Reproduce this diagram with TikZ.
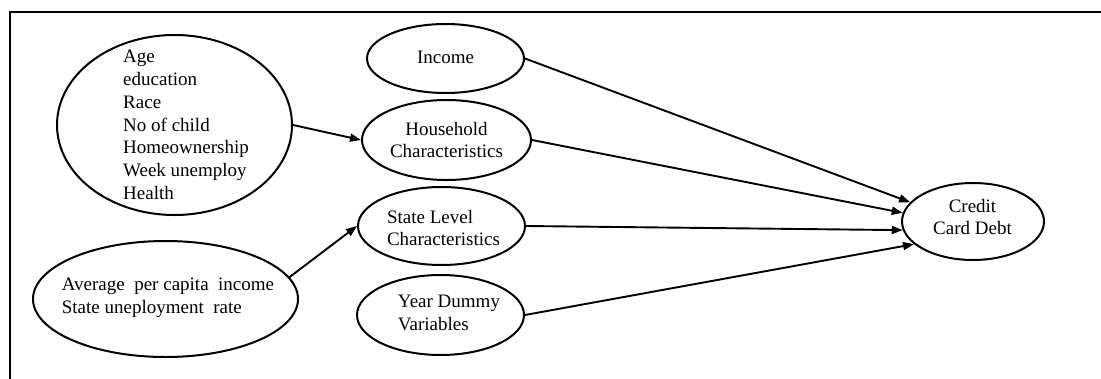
\documentclass[tikz,border=0pt]{standalone}
\usepackage{fontspec}
\setmainfont{Liberation Serif}
\usetikzlibrary{shapes.geometric,arrows.meta}
\tikzset{
  ell/.style={draw, ellipse, line width=2pt, inner sep=0pt},
  txt/.style={inner sep=0pt, font=\fontsize{19}{22.5}\selectfont},
  arr/.style={line width=1.9pt, -{Triangle[length=11pt,width=8pt]}},
}
\begin{document}
\begin{tikzpicture}[x=1pt,y=-1pt]
\useasboundingbox (0,0) rectangle (1101,378);
% frame
\coordinate (fa) at (10,385);
\coordinate (fb) at (10,12);
\coordinate (fc) at (1110,12);
\draw[line width=2pt] (fa) -- (fb) -- (fc);
% ellipses
\node[ell, minimum width=235pt, minimum height=180pt] (big) at (174.5,125) {};
\node[ell, minimum width=157pt, minimum height=69pt] (inc) at (445.5,58.5) {};
\node[ell, minimum width=169pt, minimum height=80pt] (hh) at (446.5,140) {};
\node[ell, minimum width=167pt, minimum height=78pt] (st) at (441.5,226) {};
\node[ell, minimum width=167pt, minimum height=80pt] (yr) at (440.5,315) {};
\node[ell, minimum width=265pt, minimum height=116pt] (avg) at (165.5,299) {};
\node[ell, minimum width=142pt, minimum height=77pt] (cd) at (973,221.5) {};
% texts
\node[txt, align=left, font=\fontsize{19}{22.8}\selectfont] (tbig) at (186,125) {Age\\education\\Race\\No of child\\Homeownership\\Week unemploy\\Health};
\node[txt] (tinc) at (445.5,57) {Income};
\node[txt, align=center] (thh) at (446.5,140) {Household\\Characteristics};
\node[txt, align=left] (tst) at (443.5,228) {State Level\\Characteristics};
\node[txt, align=left] (tyr) at (449,313) {Year Dummy\\Variables};
\node[txt, align=left] (tavg) at (168,298) {Average\ \ per capita\ \ income\\State uneployment\ \ rate};
\node[txt, align=center] (tcd) at (972.5,217) {Credit\\Card Debt};
% connectors
\draw[arr] (big.east) -- (hh.west);
\draw[arr] (avg.10) -- (st.west);
\draw[arr] (inc.east) -- (cd.163);
\draw[arr] (hh.east) -- (cd.173);
\draw[arr] (st.east) -- (cd.187);
\draw[arr] (yr.east) -- (cd.201);
\end{tikzpicture}
\end{document}
